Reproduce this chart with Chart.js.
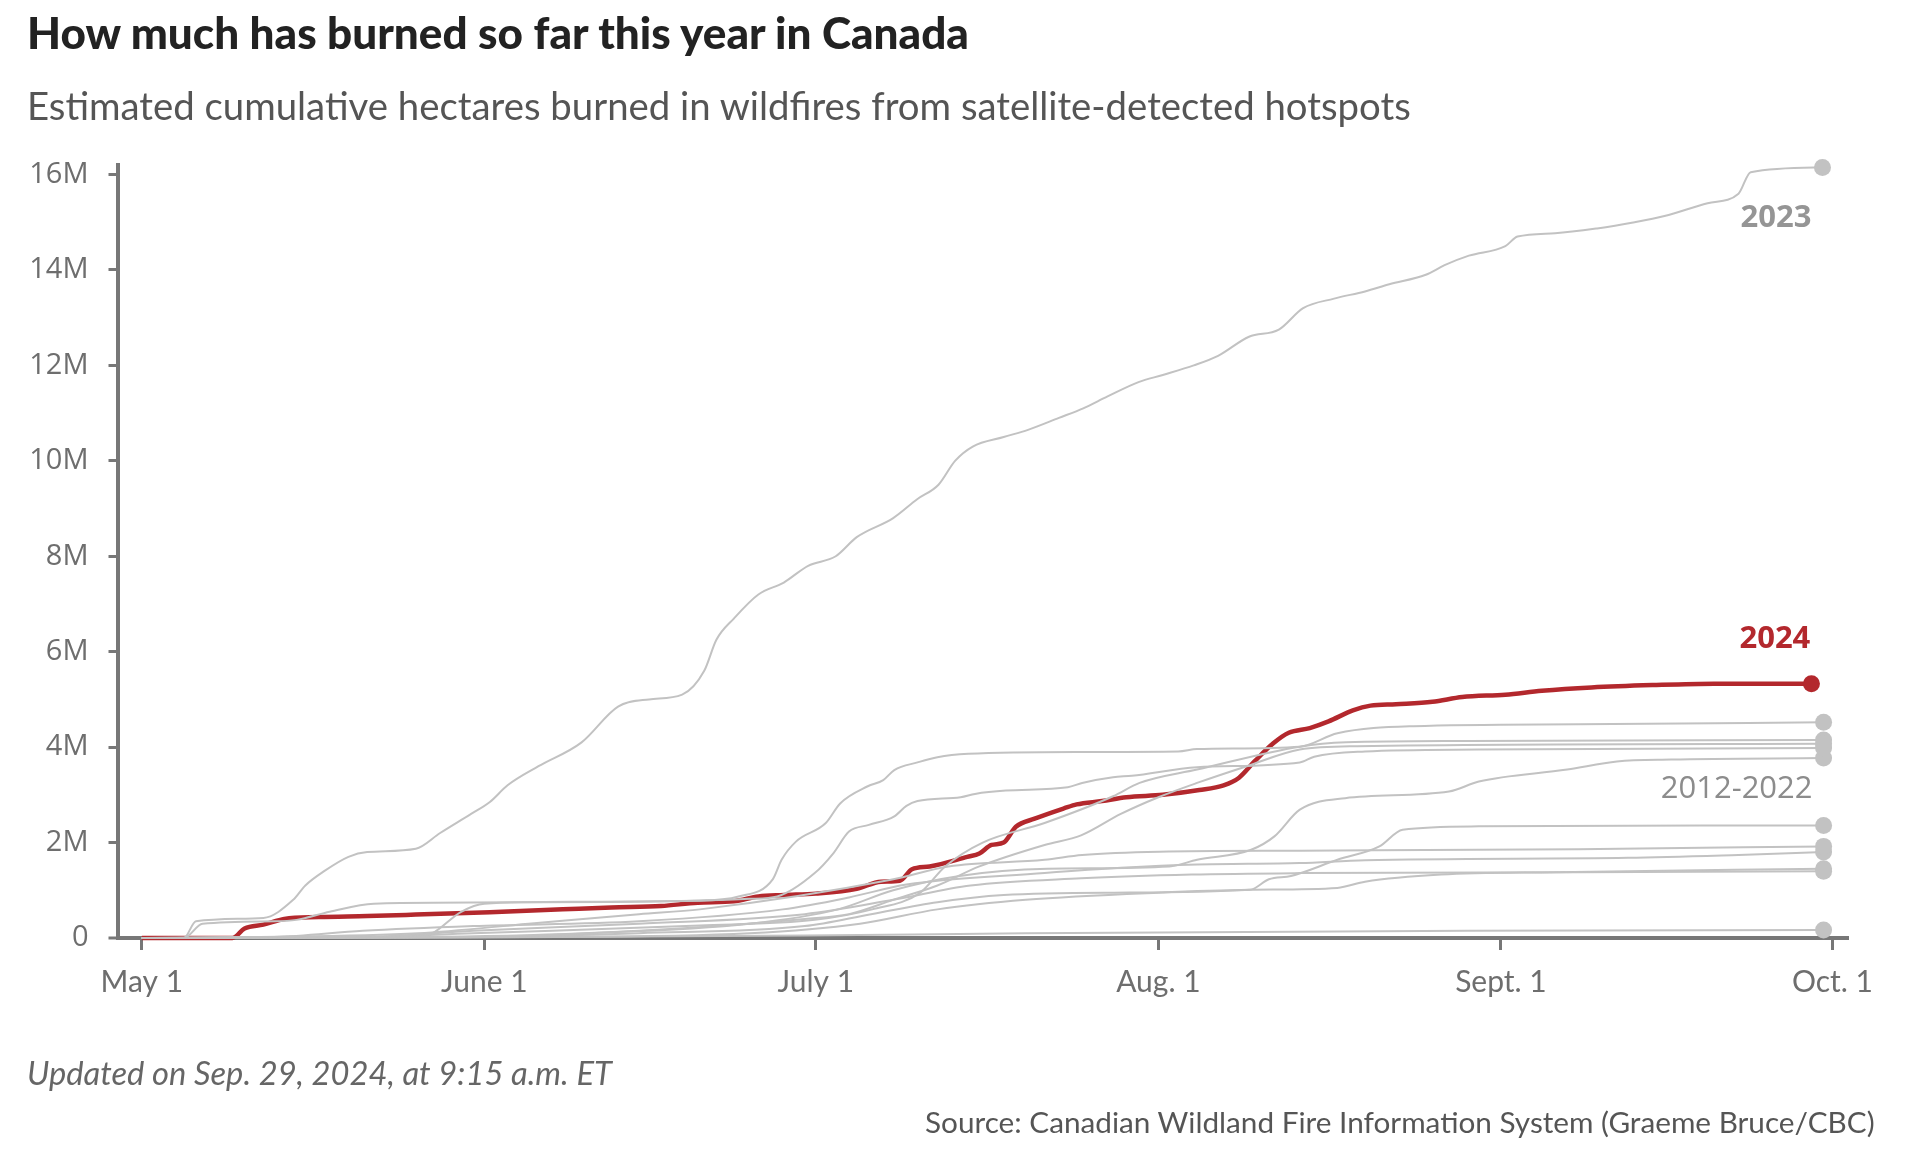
<!DOCTYPE html>
<html><head><meta charset="utf-8">
<script src="https://cdn.jsdelivr.net/npm/chart.js@4.4.1/dist/chart.umd.min.js"></script>
<style>
html,body{margin:0;padding:0;background:#fff;width:1920px;height:1157px;overflow:hidden;}
#wrap{position:relative;width:1920px;height:1157px;}
canvas{position:absolute;left:0;top:0;}
.txt{position:absolute;white-space:nowrap;line-height:1;}
</style></head><body>
<div id="wrap">
<canvas id="c" width="1920" height="1157"></canvas>
<div id="title" class="txt">How much has burned so far this year in Canada</div>
<div id="subtitle" class="txt">Estimated cumulative hectares burned in wildfires from satellite-detected hotspots</div>
<div id="updated" class="txt">Updated on Sep. 29, 2024, at 9:15 a.m. ET</div>
<div id="source" class="txt">Source: Canadian Wildland Fire Information System (Graeme Bruce/CBC)</div>
</div>
<script>
// ---- axis ticks ----
const xTickDays = [0, 31, 61, 92, 123, 153];           // days since May 1
const xTickLabels = ['May 1', 'June 1', 'July 1', 'Aug. 1', 'Sept. 1', 'Oct. 1'];
const yTickValues = [0, 2, 4, 6, 8, 10, 12, 14, 16];   // millions of hectares

// ---- series: [day since May 1, cumulative hectares (millions)] ----
const y2024 = [[0,0],[8.2,0],[9.3,0.2],[11,0.28],[12.9,0.4],[16,0.44],[20.4,0.46],[24.8,0.49],[31.5,0.54],[38.1,0.6],[42.5,0.64],[47,0.67],[50.3,0.74],[53.6,0.77],[55.8,0.87],[58.1,0.9],[61,0.93],[64.7,1.03],[66.9,1.18],[68.6,1.2],[69.7,1.44],[71.3,1.5],[74.7,1.7],[75.8,1.77],[76.9,1.95],[78,2.0],[79.1,2.33],[80.8,2.5],[83.5,2.72],[84.6,2.8],[86.9,2.87],[89.1,2.95],[92.4,3.0],[95.7,3.1],[97.9,3.2],[99.3,3.36],[100.7,3.7],[102.4,4.08],[103.8,4.3],[105.7,4.4],[107.4,4.54],[109.6,4.77],[111.2,4.87],[113.5,4.9],[116.8,4.95],[119.5,5.05],[123.4,5.1],[126.7,5.18],[131.2,5.25],[136.7,5.3],[142.3,5.33],[151.1,5.33]];

const y2023 = [[0,0],[3.8,0],[4.9,0.35],[11,0.42],[13.7,0.8],[14.8,1.1],[16.5,1.4],[18.7,1.7],[20.4,1.8],[24.8,1.87],[27,2.2],[29.8,2.6],[31.5,2.85],[33.1,3.2],[35.9,3.6],[39.8,4.1],[43.1,4.85],[45.9,5.0],[48.9,5.1],[50.9,5.6],[52,6.25],[53.6,6.7],[55.8,7.2],[58.1,7.45],[60.3,7.8],[62.8,8.0],[64.7,8.4],[68,8.8],[70.2,9.2],[72.1,9.5],[73.6,10.0],[75.2,10.3],[78,10.5],[80.2,10.65],[83,10.9],[85.2,11.1],[87.4,11.35],[90.2,11.65],[92.4,11.8],[95.2,12.0],[97.4,12.2],[100.2,12.6],[102.9,12.75],[105.1,13.2],[107.9,13.4],[110.7,13.55],[112.9,13.7],[116.2,13.9],[117.9,14.1],[120.1,14.3],[123.4,14.5],[124.5,14.7],[127.9,14.77],[131.7,14.87],[135.1,15.0],[137.8,15.13],[141.7,15.4],[144.5,15.6],[145.6,16.05],[152.1,16.15]];

const y2012 = [[0,0],[10,0.02],[25,0.1],[35,0.3],[45,0.5],[50.5,0.6],[67.8,1.22],[73,1.5],[81.7,1.64],[85.1,1.74],[92.1,1.81],[104.8,1.83],[130,1.86],[152.2,1.92]];
const y2013 = [[0,0],[30,0.02],[45,0.15],[60,0.4],[64,0.5],[68,0.8],[72,1.1],[75.8,1.5],[81.7,1.95],[85,2.15],[88.6,2.6],[92,2.95],[95.5,3.25],[100,3.6],[104.8,3.95],[110,4.02],[152.2,4.07]];
const y2014 = [[0,0],[3.8,0],[5.5,0.3],[12,0.35],[14,0.38],[17,0.55],[21,0.72],[35,0.75],[50,0.78],[54,0.87],[57.1,1.23],[57.9,1.64],[59.2,2.02],[61.9,2.41],[63.2,2.82],[65.7,3.18],[67.1,3.31],[68.1,3.52],[70.2,3.68],[72,3.79],[74.8,3.86],[85.1,3.9],[93.8,3.91],[95.5,3.96],[104.8,4.01],[108.2,4.29],[115.1,4.44],[130,4.48],[152.2,4.52]];
const y2015 = [[0,0],[25,0.02],[26.3,0.1],[28.9,0.55],[31,0.72],[40,0.76],[50,0.78],[55,0.82],[57.5,0.87],[60.9,1.36],[62.6,1.78],[64,2.23],[65.8,2.37],[68.1,2.55],[69.2,2.77],[70.2,2.87],[74.1,2.95],[75.4,3.02],[78.2,3.09],[83.8,3.16],[85.1,3.25],[87.9,3.37],[89.6,3.4],[95.5,3.58],[104.8,3.68],[106.1,3.8],[110.7,3.91],[121,3.95],[152.2,3.98]];
const y2016 = [[0,0],[20,0.02],[30,0.15],[45,0.3],[60,0.5],[68,0.8],[75,1.1],[85,1.25],[95,1.33],[104.8,1.36],[130,1.38],[152.2,1.4]];
const y2017 = [[0,0],[25,0.02],[40,0.1],[55,0.3],[63,0.6],[68,1.0],[74,1.3],[82,1.45],[93,1.5],[95.5,1.64],[100.4,1.85],[102.5,2.13],[104.8,2.69],[108.9,2.93],[118.3,3.07],[121,3.28],[129,3.53],[133.5,3.7],[138.4,3.74],[152.2,3.77]];
const y2018 = [[0,0],[30,0.02],[45,0.1],[60,0.25],[66,0.5],[72,0.75],[78,0.9],[88,0.95],[100.3,1.01],[102,1.23],[104,1.3],[108.2,1.64],[112,1.92],[114.1,2.27],[121,2.34],[152.2,2.36]];
const y2019 = [[0,0],[12,0.02],[20,0.15],[30,0.25],[45,0.35],[58,0.6],[64,0.85],[69.2,1.12],[81.7,1.36],[88.6,1.47],[95.5,1.54],[104.8,1.57],[110.7,1.63],[134.5,1.68],[144.5,1.74],[152.2,1.8]];
const y2020 = [[0,0],[30,0.01],[60,0.05],[80,0.1],[120,0.15],[152.2,0.17]];
const y2021 = [[0,0],[20,0.02],[30,0.1],[50.5,0.26],[60.9,0.38],[66.1,0.6],[70.4,0.94],[72.7,1.5],[76.1,2.0],[81.7,2.41],[87.9,2.97],[90.3,3.25],[95.5,3.53],[104.8,4.01],[109,4.1],[120,4.13],[152.2,4.15]];
const y2022 = [[0,0],[35,0.02],[55,0.1],[65,0.3],[72,0.6],[80,0.8],[92,0.95],[100.3,1.01],[108.2,1.05],[110.7,1.18],[117.6,1.33],[128,1.38],[152.2,1.45]];

const pastSeries = [y2012, y2013, y2014, y2015, y2016, y2017, y2018, y2019, y2020, y2021, y2022];

// ---- colours / styles ----
const GRAY = '#c2c2c2';
const RED = '#b3282d';
const AXIS = '#777777';

function mkDataset(pairs, color, width, r) {
  const last = pairs.length - 1;
  return {
    data: pairs.map(p => ({x: p[0], y: p[1]})),
    borderColor: color, backgroundColor: color, borderWidth: width,
    pointRadius: ctx => ctx.dataIndex === last ? r : 0,
    pointHoverRadius: 0, pointBackgroundColor: color, pointBorderWidth: 0,
    cubicInterpolationMode: 'monotone', fill: false, clip: false
  };
}
const datasets = pastSeries.map(s => mkDataset(s, GRAY, 2, 8.5));
datasets.push(mkDataset(y2023, GRAY, 2, 8.5));
datasets.push(mkDataset(y2024, RED, 4.5, 8.5));

// ---- in-chart labels ----
const seriesLabels = [
  {text: '2023', day: 151.1, value: 15.08, color: '#959595', font: 'bold 31px "Open Sans"'},
  {text: '2024', day: 151.0, value: 6.26, color: RED, font: 'bold 31px "Open Sans"'},
  {text: '2012-2022', day: 151.2, value: 3.12, color: '#8c8c8c', font: '31px "Open Sans"'}
];
const labelPlugin = {
  id: 'seriesLabels',
  afterDatasetsDraw(chart) {
    const c = chart.ctx, xs = chart.scales.x, ys = chart.scales.y;
    c.save();
    c.textAlign = 'right'; c.textBaseline = 'middle';
    seriesLabels.forEach(l => {
      c.font = l.font; c.fillStyle = l.color;
      c.fillText(l.text, xs.getPixelForValue(l.day), ys.getPixelForValue(l.value));
    });
    c.restore();
  }
};

new Chart(document.getElementById('c'), {
  type: 'line',
  data: {datasets},
  options: {
    responsive: false, animation: false, devicePixelRatio: 1,
    layout: {padding: {left: 0, top: 165, right: 71, bottom: 159}},
    plugins: {legend: {display: false}, tooltip: {enabled: false}},
    scales: {
      x: {
        type: 'linear', min: -2.2, max: 154.5,
        afterBuildTicks: s => { s.ticks = xTickDays.map(v => ({value: v})); },
        afterFit: s => { s.height = 60; },
        border: {display: false},
        grid: {drawOnChartArea: false, drawTicks: true, tickLength: 12, color: AXIS, lineWidth: 3},
        ticks: {
          callback: (v, i) => xTickLabels[i],
          font: {family: 'Lato', size: 30}, color: '#6e6e6e', padding: 14,
          maxRotation: 0, autoSkip: false
        }
      },
      y: {
        type: 'linear', min: 0, max: 16.2,
        afterBuildTicks: s => { s.ticks = yTickValues.map(v => ({value: v})); },
        afterFit: s => { s.width = 117.5; },
        border: {display: true, color: AXIS, width: 4},
        grid: {
          drawOnChartArea: true, drawTicks: true, tickLength: 9,
          color: ctx => (ctx.tick && ctx.tick.value === 0) ? AXIS : 'rgba(0,0,0,0)',
          lineWidth: ctx => (ctx.tick && ctx.tick.value === 0) ? 4 : 3,
          tickColor: AXIS, tickWidth: 3
        },
        ticks: {
          callback: v => v === 0 ? '0' : v + 'M',
          font: {family: 'Open Sans', size: 29}, color: '#6e6e6e', padding: 20
        }
      }
    }
  },
  plugins: [labelPlugin]
});

// ---- HTML text sized to the reference widths ----
function placeText(id, family, weight, style, color, targetW, left, right, centerY) {
  const el = document.getElementById(id);
  const m = document.createElement('canvas').getContext('2d');
  m.font = style + ' ' + weight + ' 100px ' + family;
  const w = m.measureText(el.textContent).width;
  const size = 100 * targetW / w;
  el.style.fontFamily = family; el.style.fontWeight = weight; el.style.fontStyle = style;
  el.style.fontSize = size + 'px'; el.style.color = color;
  el.style.top = (centerY - 0.53 * size) + 'px';
  if (left !== null) el.style.left = left + 'px';
  else el.style.left = (right - targetW) + 'px';
}
placeText('title', 'Lato', '900', 'normal', '#222', 946, 27, null, 33);
placeText('subtitle', 'Lato', '400', 'normal', '#555', 1385, 27, null, 106);
placeText('updated', 'Lato', '400', 'italic', '#666', 585, 27, null, 1074);
placeText('source', 'Lato', '400', 'normal', '#555', 950, null, 1875, 1123);
</script>
</body></html>
